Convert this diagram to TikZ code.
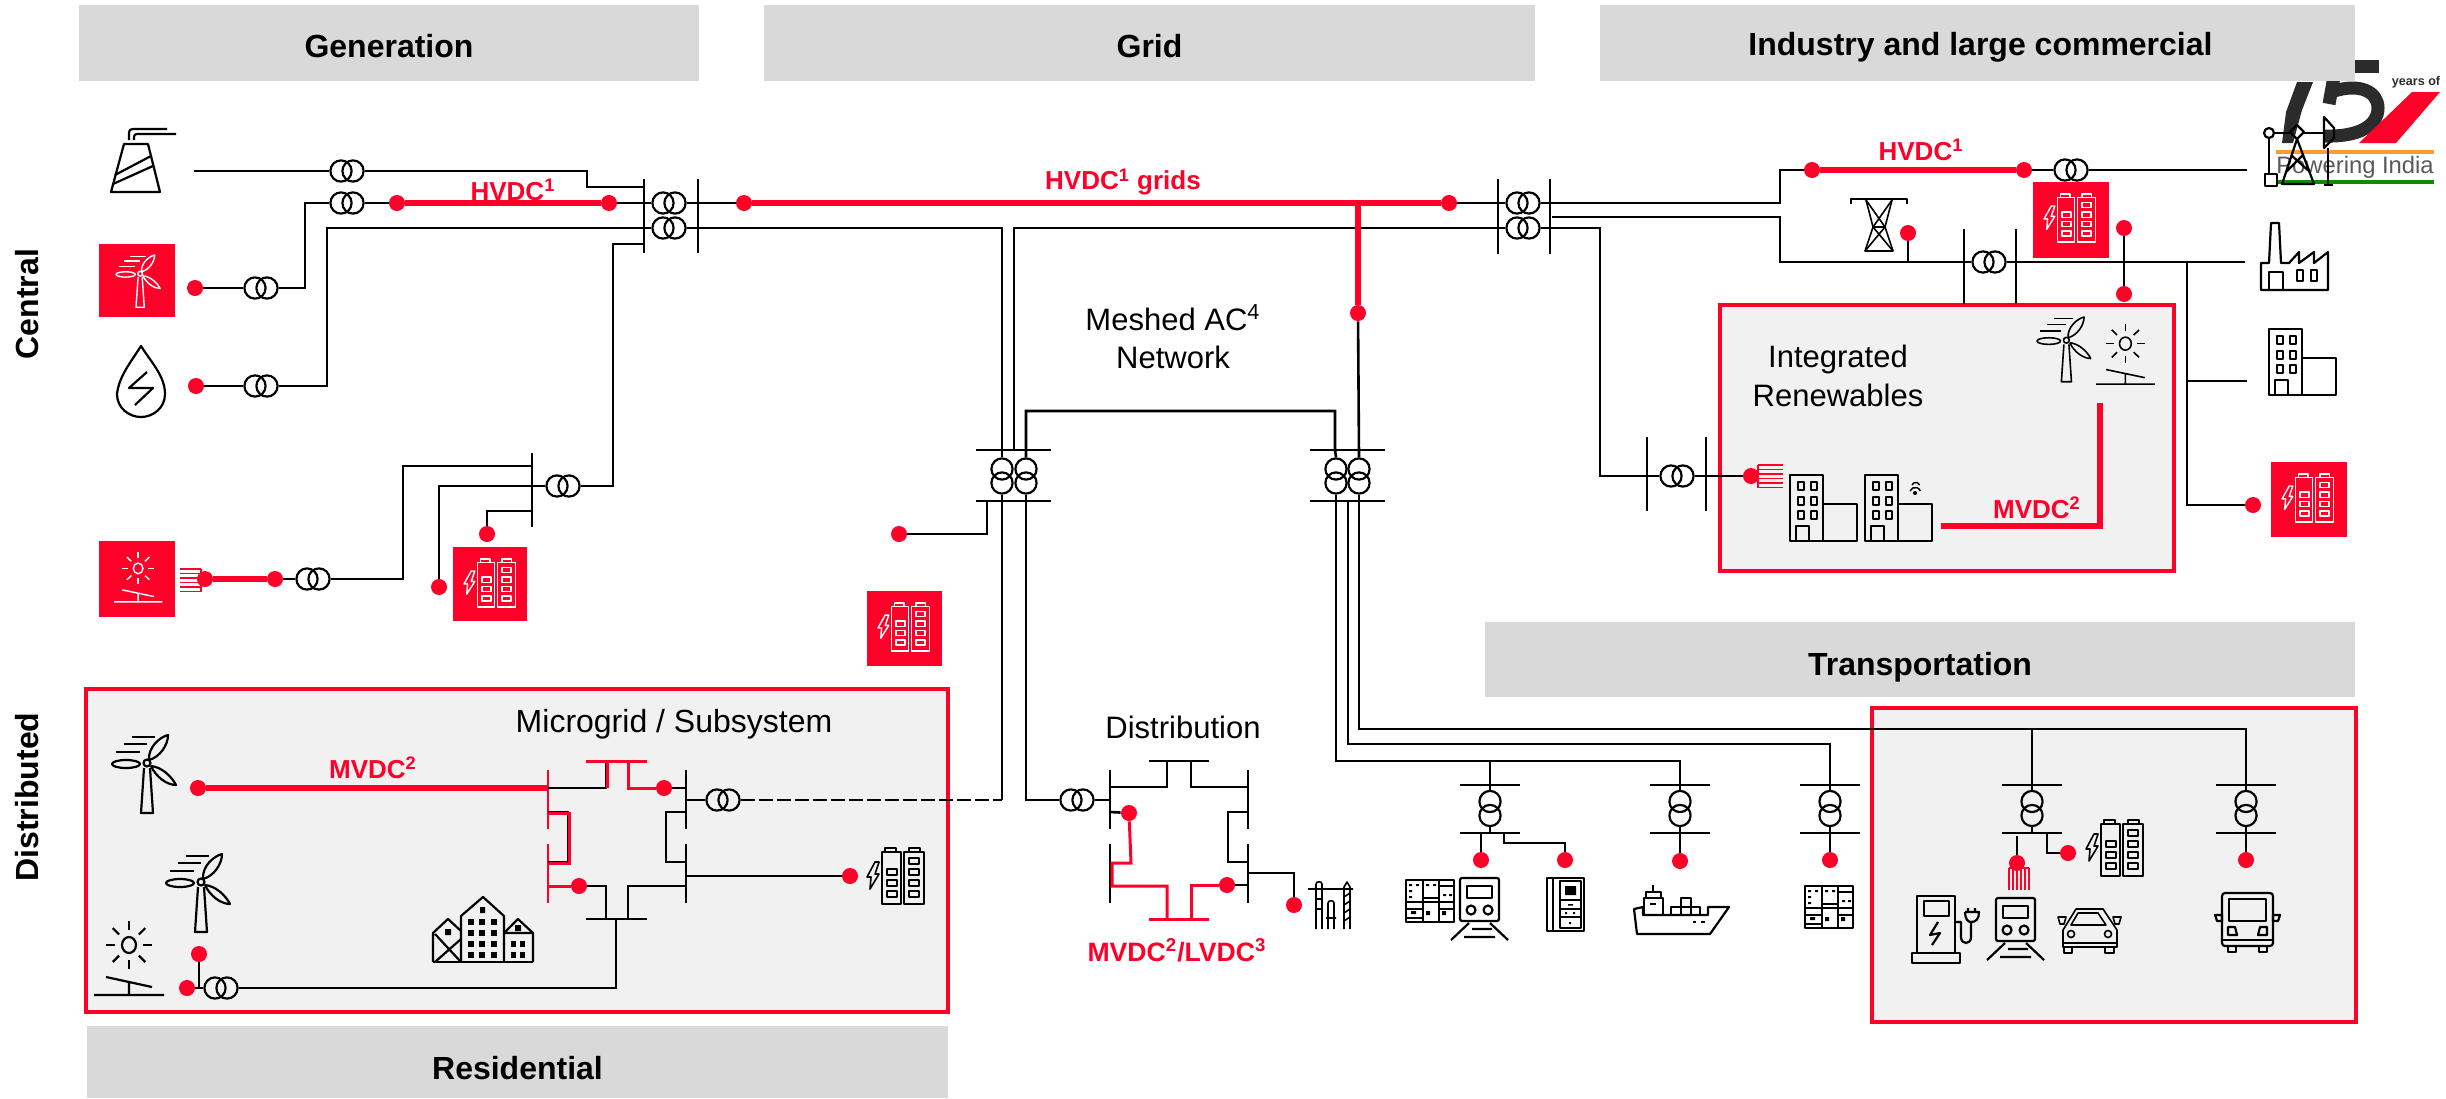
\documentclass[tikz,border=0pt]{standalone}
\usepackage{fontspec}
\setmainfont{Liberation Sans}
\definecolor{rd}{HTML}{FF0029}
\definecolor{hg}{HTML}{D9D9D9}
\definecolor{pg}{HTML}{F1F1F1}
\definecolor{lk}{HTML}{2B2B2B}
\definecolor{or}{HTML}{F99D33}
\definecolor{gn}{HTML}{128807}
\tikzset{
 wire/.style={line width=1.3pt,line join=miter},
 busl/.style={line width=1.3pt},
 redth/.style={rd,line width=2.9pt,line join=miter},
 redtn/.style={rd,line width=1.5pt,line join=miter},
 ring/.style={circle,draw,line width=1.1pt,minimum size=10.6pt,inner sep=0pt},
 dot/.style={circle,fill=rd,minimum size=8pt,inner sep=0pt},
 hdr/.style={fill=hg,inner sep=0pt,font=\fontsize{16}{19}\bfseries\selectfont},
 rbox/.style={fill=pg,draw=rd,line width=2pt,inner sep=0pt},
 rlab/.style={rd,inner sep=0pt,font=\fontsize{13}{16}\bfseries\selectfont},
 tlab/.style={inner sep=0pt,font=\fontsize{15.5}{19}\selectfont},
 sidelab/.style={rotate=90,inner sep=0pt,font=\fontsize{16}{19}\bfseries\selectfont},
 ic/.style={line width=1.1pt,line join=round},
 icw/.style={color=white,line width=.7pt,line join=round},
 ict/.style={line width=.8pt,line join=round},
}
\newcommand\xh[3]{\node[ring] (#1-a) at ({#2-6},#3){}; \node[ring] (#1-b) at ({#2+6},#3){};}
\newcommand\xv[3]{\node[ring] (#1-a) at (#2,{#3-7}){}; \node[ring] (#1-b) at (#2,{#3+7}){};}
\newcommand\busv[4]{\coordinate (#1-a) at (#2,#3); \coordinate (#1-b) at (#2,#4); \draw[busl] (#1-a)--(#1-b);}
\newcommand\bush[4]{\coordinate (#1-a) at (#3,#2); \coordinate (#1-b) at (#4,#2); \draw[busl] (#1-a)--(#1-b);}
\newcommand\hdrbox[7]{\node[hdr,minimum width={(#4-#2)*.5pt},minimum height={(#5-#3)*.5pt}] (#1) at ({(#2+#4)/2},{(#3+#5)/2}) {\raisebox{-#7pt}[\height][\depth]{#6}};}
\newcommand\redbox[5]{\node[rbox,minimum width={(#4-#2)*.5pt},minimum height={(#5-#3)*.5pt}] (#1) at ({(#2+#4)/2},{(#3+#5)/2}) {};}
\newcommand\redsq[5]{\node[fill=rd,inner sep=0pt,minimum width={(#4-#2)*.5pt},minimum height={(#5-#3)*.5pt}] (#1) at ({(#2+#4)/2},{(#3+#5)/2}) {};}
\newcommand\lowx[2]{\xv{#1}{#2}{808.5}
 \bush{#1t}{785}{#2-30}{#2+30}\bush{#1u}{833}{#2-30}{#2+30}
 \coordinate (#1-in) at (#2,785); \draw[wire] (#1-in)--(#1-a.north); \draw[wire] (#1-b.south)--(#2,833);}
% icons: x y sx sy style
\newcommand\iconWind[5]{\begin{scope}[shift={(#1,#2)},xscale=#3,yscale=#4,#5]
 \draw (35,28) circle[x radius=3.5,y radius=3.5];
 \draw (32,33)--(29,78)--(41,78)--(38,33);
 \draw (37,25) .. controls (36,12) and (48,2) .. (56,0) .. controls (56,10) and (48,22) .. (37,25);
 \draw (39,31) .. controls (50,32) and (60,42) .. (64,50) .. controls (55,50) and (44,42) .. (39,31);
 \draw (14,29) circle[x radius=14,y radius=4];
 \draw (20,2)--(43,2) (12,9)--(35,9) (4,17)--(28,17);
\end{scope}}
\newcommand\iconSolar[5]{\begin{scope}[shift={(#1,#2)},xscale=#3,yscale=#4,#5]
 \draw (35,23) circle[x radius=7,y radius=8];
 \foreach \a in {0,45,...,315}{\draw ({35+14*cos(\a)},{23+15*sin(\a)})--({35+23*cos(\a)},{23+24*sin(\a)});}
 \draw (0,73)--(70,73) (12,55)--(58,65) (35,60)--(35,73);
\end{scope}}
\newcommand\iconBatt[5]{\begin{scope}[shift={(#1,#2)},xscale=#3,yscale=#4,#5]
 \draw (8,14)--(12,14)--(8,26)--(12,26)--(3,41)--(4,29)--(0,29)--cycle;
 \draw (15,4) rectangle (34,56) (37,4) rectangle (57,56) (18,0) rectangle (29,4) (42,0) rectangle (53,4);
 \foreach \y in {24,35,46}{\draw (20,{\y-3}) rectangle (30,{\y+3});}
 \foreach \y in {13,24,35,46}{\draw (42,{\y-3}) rectangle (52,{\y+3});}
\end{scope}}
\newcommand\iconBuilding[3]{\begin{scope}[shift={(#1,#2)},#3]
 \draw (1,0) rectangle (34,66) (34,29) rectangle (68,66) (7,51) rectangle (20,66);
 \foreach \x in {12,25}{\foreach \y in {11,26,40}{\draw ({\x-3},{\y-4}) rectangle ({\x+3},{\y+4});}}
\end{scope}}
\newcommand\iconFactory[3]{\begin{scope}[shift={(#1,#2)},#3]
 \draw (0,40)--(8,40)--(10,0)--(18,0)--(20,40)--(28,40)--(38,29)--(38,40)--(53,29)--(53,40)--(67,29)--(67,67)--(0,67)--cycle;
 \draw (8,49) rectangle (22,67) (36,47) rectangle (42,58) (50,47) rectangle (56,58);
\end{scope}}
\newcommand\iconPlant[3]{\begin{scope}[shift={(#1,#2)},#3]
 \draw (0,64)--(49,64)--(37,16)--(13,16)--cycle;
 \draw (4,47)--(40,28) (2,56)--(42,38);
 \draw (18,12)--(18,5) .. controls (18,2) and (19,1) .. (22,1)--(56,1);
 \draw (23,12)--(23,9) .. controls (23,7) and (24,6) .. (26,6)--(65,6);
\end{scope}}
\newcommand\iconDrop[3]{\begin{scope}[shift={(#1,#2)},#3]
 \draw (24,0) .. controls (14,16) and (2,30) .. (0,48) .. controls (0,62) and (12,71) .. (24,71) .. controls (36,71) and (48,62) .. (48,48) .. controls (48,30) and (34,16) .. (24,0) -- cycle;
 \draw (30,26)--(12,42)--(36,42)--(18,59);
\end{scope}}
\newcommand\iconTower[3]{\begin{scope}[shift={(#1,#2)},#3]
 \draw (1,7)--(1,2)--(57,2)--(57,7);
 \draw (16,3)--(23,30)--(15,54)--(43,54)--(35,30)--(42,3);
 \draw (16,3)--(35,30)--(15,54) (42,3)--(23,30)--(43,54) (23,30)--(35,30);
\end{scope}}
\newcommand\iconTrain[3]{\begin{scope}[shift={(#1,#2)},#3]
 \draw[rounded corners=1pt] (9,1) rectangle (48,44);
 \draw (16,9) rectangle (41,21);
 \draw (20,33) circle[radius=4.5] (37,33) circle[radius=4.5];
 \draw (18,46)--(0,63) (39,46)--(57,63) (21,52)--(41,52) (13,60)--(44,60);
\end{scope}}
\newcommand\iconPanel[3]{\begin{scope}[shift={(#1,#2)},#3]
 \draw (0,0) rectangle (48,42) (17,0)--(17,42) (33,0)--(33,42) (0,22)--(48,22) (0,29)--(17,29) (33,29)--(48,29) (0,38)--(17,38) (17,18)--(33,18) (33,6)--(48,6);
 \fill (3,4) rectangle (6,6) (10,4) rectangle (13,6) (3,10) rectangle (6,12) (3,16) rectangle (6,18) (20,4) rectangle (23,6) (27,4) rectangle (30,6) (37,14) rectangle (40,16) (43,14) rectangle (46,16) (5,31) rectangle (10,34) (20,31) rectangle (24,35) (36,31) rectangle (40,35);
\end{scope}}
\newcommand\iconCab[3]{\begin{scope}[shift={(#1,#2)},#3]
 \draw (0,0) rectangle (37,53) (6,0)--(6,53) (13,3) rectangle (34,50) (13,22)--(34,22) (13,31)--(34,31) (13,39)--(34,39);
 \fill (18,8) rectangle (29,17) (21,26) rectangle (26,27.5) (18,34) rectangle (20,36) (26,34) rectangle (28,36) (22,44) rectangle (24,46);
\end{scope}}
\newcommand\iconShip[3]{\begin{scope}[shift={(#1,#2)},#3]
 \draw (10,22)--(1,24)--(4,49)--(77,49)--(96,22)--(75,22)--(75,30)--(10,30)--cycle;
 \draw (11,13) rectangle (30,30) (13,7) rectangle (28,13) (20,0)--(20,7);
 \draw (38,22) rectangle (48,30) (48,22) rectangle (58,30) (58,22) rectangle (67,30) (48,13) rectangle (58,22);
 \draw (17,19)--(23,19) (60,37)--(63,37) (68,37)--(72,37);
\end{scope}}
\newcommand\iconCharger[3]{\begin{scope}[shift={(#1,#2)},#3]
 \draw (5,58)--(5,1)--(43,1)--(43,58) (0,58) rectangle (48,68) (12,6) rectangle (37,21);
 \draw (26,27)--(18,40)--(28,38)--(20,50);
 \draw (43,27)--(49,27)--(49,42) .. controls (49,50) and (59,50) .. (59,42)--(59,27);
 \draw (53,17)--(67,17) .. controls (67,24) and (64,27) .. (59,27) .. controls (56,27) and (53,24) .. (53,17) (56,13)--(56,17) (63,13)--(63,17);
\end{scope}}
\newcommand\iconCar[3]{\begin{scope}[shift={(#1,#2)},#3]
 \draw (5,23)--(18,2)--(45,2)--(59,23)--(59,40)--(5,40)--cycle;
 \draw (13,18)--(20,6)--(40,6)--(48,18)--cycle;
 \draw (13,27) circle[radius=3.5] (50,27) circle[radius=3.5];
 \draw (5,36)--(59,36) (6,40) rectangle (14,46) (47,40) rectangle (56,46);
 \draw (0,10)--(8,10)--(6,17)--(2,17)--cycle (63,10)--(55,10)--(57,17)--(61,17)--cycle;
\end{scope}}
\newcommand\iconBus[3]{\begin{scope}[shift={(#1,#2)},#3]
 \draw[rounded corners=1.5pt] (7,1) rectangle (58,54);
 \draw (14,7) rectangle (51,29);
 \draw (13,35)--(20,35)--(22,43)--(13,43)--cycle (52,35)--(45,35)--(43,43)--(52,43)--cycle;
 \draw (7,48)--(58,48) (13,54) rectangle (21,60) (44,54) rectangle (52,60);
 \draw (0,23)--(7,23)--(7,29)--(2,29)--cycle (65,23)--(58,23)--(58,29)--(63,29)--cycle;
\end{scope}}
\newcommand\iconHouses[3]{\begin{scope}[shift={(#1,#2)},#3]
 \draw (0,65)--(100,65);
 \draw (28,65)--(28,19)--(50,0)--(71,19)--(71,65);
 \draw (0,65)--(0,36)--(15,22)--(28,34) (2,37)--(28,65) (28,42)--(2,65);
 \draw (71,36)--(85,22)--(100,36)--(100,65) (71,36)--(100,36);
 \fill (12,32) rectangle (18,38) (82,28) rectangle (88,34) (47,10) rectangle (52,16);
 \foreach \x in {38,49,61}{\foreach \y in {25,36,47,58}{\fill ({\x-3},{\y-3}) rectangle ({\x+3},{\y+3});}}
 \foreach \x in {80,89}{\foreach \y in {47,58}{\fill ({\x-2.5},{\y-3}) rectangle ({\x+2.5},{\y+3});}}
\end{scope}}
\newcommand\iconTool[3]{\begin{scope}[shift={(#1,#2)},#3]
 \draw (0,8)--(45,8) (8,48)--(8,3) .. controls (8,0) and (14,0) .. (14,3)--(14,48) (8,18)--(14,18) (8,28)--(14,28);
 \draw (20,48)--(20,22) .. controls (20,19) and (26,19) .. (26,22)--(26,48) (18,37)--(28,37);
 \draw (36,48)--(36,6)--(39,1)--(42,6)--(42,48) (36,16)--(42,12) (36,24)--(42,20) (36,32)--(42,28) (36,40)--(42,36);
\end{scope}}
\newcommand\combH[4]{% x1 x2 ytop bar-x
 \foreach \k in {0,...,5}{\draw[rd,line width=.75pt] (#1,{#3+\k*4.5})--(#2,{#3+\k*4.5});}
 \draw[rd,line width=1pt] (#4,#3)--(#4,{#3+22.5});}
\begin{document}
\begin{tikzpicture}[x=0.5pt,y=-0.5pt]
\useasboundingbox (0,0) rectangle (2446,1098);
% logo
\fill[lk] (2297,82)--(2313,82)--(2302,110)--(2293,143)--(2282,143)--(2286,112)--cycle;
\fill[lk] (2330,60) rectangle (2379,73);
\draw[lk,line width=6.5pt] (2337,60)--(2329,104);
\draw[lk,line width=6.5pt] (2331,92) .. controls (2360,82) and (2378,92) .. (2378,108) .. controls (2378,125) and (2360,137) .. (2325,136);
\fill[rd] (2412,92)--(2440,92)--(2396,143)--(2359,143)--cycle;
\fill[or] (2276,150) rectangle (2434,154);
\fill[gn] (2276,180) rectangle (2434,184);
\node[inner sep=0pt,text=lk,font=\fontsize{6.3}{8}\bfseries\selectfont] (ly) at (2416,82) {years of};
\node[inner sep=0pt,text=black!65,font=\fontsize{11.9}{14}\selectfont] (lp) at (2355,167) {Powering India};
% headers
\hdrbox{hgen}{79}{5}{699}{81}{Generation}{1.5}
\hdrbox{hgrid}{764}{5}{1535}{81}{Grid}{1.5}
\hdrbox{hind}{1600}{5}{2355}{81}{\hspace{3pt}Industry and large commercial}{2.2}
\hdrbox{htra}{1485}{622}{2355}{697}{Transportation}{3.8}
\hdrbox{hres}{87}{1026}{948}{1098}{Residential}{3}
\node[sidelab] (lc) at (27,304) {Central};
\node[sidelab] (ld) at (27,797) {Distributed};
% boxes
\redbox{bint}{1720}{305}{2174}{571}
\redbox{bmic}{86}{689}{948}{1012}
\redbox{btra}{1872}{708}{2356}{1022}
\redsq{sw}{99}{244}{175}{317}
\redsq{ss}{99}{541}{175}{617}
\redsq{sb1}{453}{547}{527}{621}
\redsq{sb2}{867}{591}{942}{666}
\redsq{sb3}{2033}{182}{2109}{258}
\redsq{sb4}{2271}{462}{2347}{537}
% buses
\busv{b1}{644}{179}{253}\busv{b2}{698}{179}{253}
\busv{b3}{532}{453}{527}
\busv{b4}{1498}{179}{254}\busv{b5}{1550}{179}{254}
\busv{b6}{1964}{229}{304}\busv{b7}{2016}{229}{304}
\busv{b8}{1647}{437}{511}\busv{b9}{1706}{437}{511}
\bush{g1}{450}{976}{1051}\bush{g2}{501}{976}{1051}
\bush{g3}{450}{1310}{1385}\bush{g4}{501}{1310}{1385}
% transformers
\xh{t1}{347}{171}\xh{t2}{347}{203}\xh{t3}{261}{288}\xh{t6}{261}{386}
\xh{t4}{669}{203}\xh{t5}{669}{228}\xh{t7}{563}{486}\xh{t8}{313}{579}
\xh{t9}{1523}{203}\xh{t10}{1523}{228}\xh{t11}{723}{800}\xh{t12}{1077}{800}
\xh{t13}{2071}{170}\xh{t14}{1989}{262}\xh{t15}{1677}{476}\xh{t16}{221}{988}
\xv{tl1}{1002}{476}\xv{tl2}{1026}{476}\xv{tr1}{1336}{476}\xv{tr2}{1359}{476}
\lowx{la}{1490}\lowx{lb}{1680}\lowx{lc2}{1830}\lowx{ld2}{2032}\lowx{le}{2246}
% dots
\node[dot] (dw) at (195,288){};
\node[dot] (dh1) at (397,203){};
\node[dot] (dh2) at (609,203){};
\node[dot] (dhy) at (196,386){};
\node[dot] (ds1) at (205,579){};
\node[dot] (ds2) at (275,579){};
\node[dot] (db1) at (439,587){};
\node[dot] (db2) at (487,534){};
\node[dot] (db3) at (899,534){};
\node[dot] (gd1) at (744,203){};
\node[dot] (gd2) at (1449,203){};
\node[dot] (gd3) at (1358,313){};
\node[dot] (rd1) at (1812,170){};
\node[dot] (rd2) at (2024,170){};
\node[dot] (rd3) at (1751,476){};
\node[dot] (rd4) at (1908,233){};
\node[dot] (rd5) at (2124,228){};
\node[dot] (rd6) at (2124,294){};
\node[dot] (rd7) at (2253,505){};
\node[dot] (tda) at (1481,860){};
\node[dot] (tdb) at (1565,860){};
\node[dot] (tdc) at (1680,861){};
\node[dot] (tdd) at (1830,860){};
\node[dot] (tde) at (2017,863){};
\node[dot] (tdf) at (2068,853){};
\node[dot] (tdg) at (2246,860){};
\node[dot] (md1) at (198,788){};
\node[dot] (md2) at (664,788){};
\node[dot] (md3) at (579,886){};
\node[dot] (md4) at (850,876){};
\node[dot] (md5) at (199,954){};
\node[dot] (md6) at (187,988){};
\node[dot] (nd1) at (1129,813){};
\node[dot] (nd2) at (1227,885){};
\node[dot] (nd3) at (1294,905){};
% named junctions
\coordinate (fac) at (194,171);
\coordinate (j1) at (644,187);
\coordinate (j2) at (644,244);
\coordinate (j3) at (532,486);
\coordinate (j4) at (532,466);
\coordinate (j5) at (532,511);
\coordinate (jr) at (1358,203);
\coordinate (dj) at (1002,800);
\coordinate (jlt) at (1110,800);
% generation wires
\draw[wire] (fac)--(t1-a.west);
\draw[wire] (t1-b.east)--(587,171)--(587,187)--(j1);
\draw[wire] (t2-a.west)--(305,203)--(305,288)--(t3-b.east);
\draw[wire] (t3-a.west)--(dw);
\draw[wire] (t2-b.east)--(dh1);
\draw[redth] (dh1)--(dh2);
\draw[wire] (dh2)--(t4-a.west);
\draw[wire] (dhy)--(t6-a.west);
\draw[wire] (t6-b.east)--(327,386)--(327,228)--(t5-a.west);
\draw[wire] (j2)--(613,244)--(613,486)--(t7-b.east);
\draw[wire] (t7-a.west)--(j3);
\draw[wire] (j4)--(403,466)--(403,579)--(t8-b.east);
\draw[wire] (t8-a.west)--(ds2);
\draw[redth] (ds1)--(ds2);
\draw[wire] (j3)--(439,486)--(db1);
\draw[wire] (j5)--(487,511)--(db2);
% grid wires
\draw[wire] (t4-b.east)--(gd1);
\draw[redth] (gd1)--(gd2);
\draw[wire] (gd2)--(t9-a.west);
\draw[wire] (t5-b.east)--(1002,228)--(tl1-a.north);
\draw[wire] (t10-a.west)--(1014,228)--(1014,450);
\draw[wire] (tl2-a.north)--(1026,411)--(1335,411)--(1335,450)--(tr1-a.north);
\draw[redth] (jr)--(gd3);
\draw[wire] (gd3)--(tr2-a.north);
\draw[wire] (tl1-b.south)--(dj);
\draw[wire,dashed,dash pattern=on 7pt off 2pt] (t11-b.east)--(dj);
\draw[wire] (tl2-b.south)--(1026,800)--(t12-a.west);
\draw[wire] (t12-b.east)--(jlt);
\draw[wire] (987,501)--(987,534)--(db3);
\draw[wire] (tr1-b.south)--(1336,761)--(1680,761)--(lb-in);
\draw[wire] (1490,761)--(la-in);
\draw[wire] (1348,501)--(1348,744)--(1830,744)--(lc2-in);
\draw[wire] (tr2-b.south)--(1359,729)--(2246,729)--(le-in);
\draw[wire] (2032,729)--(ld2-in);
% lower transformers outputs
\draw[wire] (1481,833)--(tda);
\draw[wire] (1504,833)--(1504,843)--(1565,843)--(tdb);
\draw[wire] (1680,833)--(tdc);
\draw[wire] (1830,833)--(tdd);
\draw[wire] (2017,836)--(tde);
\draw[wire] (2047,833)--(2047,853)--(tdf);
\draw[wire] (2246,833)--(tdg);
% right wires
\draw[wire] (t9-b.east)--(1780,203)--(1780,170)--(rd1);
\draw[redth] (rd1)--(rd2);
\draw[wire] (rd2)--(t13-a.west);
\coordinate (pj) at (2247,170);
\draw[wire] (t13-b.east)--(pj);
\draw[wire] (1552,217)--(1780,217)--(1780,262)--(t14-a.west);
\coordinate (fa) at (2245,262);
\draw[wire] (t14-b.east)--(fa);
\draw[wire] (t10-b.east)--(1600,228)--(1600,476)--(t15-a.west);
\draw[wire] (t15-b.east)--(rd3);
\draw[wire] (rd4)--(1908,262);
\draw[wire] (rd5)--(rd6);
\draw[wire] (2187,262)--(2187,505)--(rd7);
\coordinate (ofc) at (2247,381);
\draw[wire] (2187,381)--(ofc);
\draw[redth] (1941,526)--(2100,526)--(2100,403);
% microgrid
\busv{m1}{548}{770}{829}\busv{m2}{548}{844}{903}\busv{m3}{686}{770}{829}\busv{m4}{686}{844}{903}
\bush{m5}{761}{586}{647}\bush{m6}{919}{586}{647}
\draw[rd,line width=1.4pt] (m1-a)--(m1-b) (m2-a)--(m2-b);
\draw[wire] (548,788)--(606,788)--(606,761);
\draw[wire] (628,761)--(628,788)--(md2);
\draw[redtn] (m5-a)--(m5-b);
\draw[redtn] (607,788)--(607,762);
\draw[redtn] (628,761)--(628,788)--(md2);
\draw[wire] (md2)--(686,788);
\draw[wire] (548,812)--(568,812)--(568,862)--(548,862);
\draw[redtn] (549,813)--(569,813)--(569,863)--(549,863);
\draw[redtn] (548,886)--(md3);
\draw[wire] (md3)--(606,886)--(606,919);
\draw[wire] (628,919)--(628,886)--(686,886);
\draw[wire] (686,812)--(666,812)--(666,862)--(686,862);
\draw[wire] (686,800)--(t11-a.west);
\draw[wire] (686,876)--(md4);
\draw[redth] (md1)--(547,788);
\draw[wire] (md5)--(199,988);
\draw[wire] (md6)--(t16-a.west);
\draw[wire] (t16-b.east)--(616,988)--(616,919);
% distribution
\busv{n1}{1110}{770}{829}\busv{n2}{1110}{844}{903}\busv{n3}{1248}{770}{829}\busv{n4}{1248}{844}{903}
\bush{n5}{761}{1149}{1209}
\draw[wire] (1110,787)--(1167,787)--(1167,761);
\draw[wire] (1191,761)--(1191,787)--(1248,787);
\draw[wire] (1110,812)--(nd1);
\draw[redtn] (nd1)--(1131,863)--(1112,863)--(1112,886)--(1167,886)--(1167,919);
\draw[redtn] (1149,919)--(1209,919);
\draw[redtn] (1191,919)--(1191,885)--(nd2);
\draw[wire] (nd2)--(1248,885);
\draw[wire] (1248,812)--(1228,812)--(1228,862)--(1248,862);
\draw[wire] (1248,873)--(1294,873)--(nd3);
% combs
\combH{180}{201}{569}{201}
\combH{1758}{1783}{465}{1758}
\foreach \k in {0,...,5}{\draw[rd,line width=.75pt] ({2009+\k*4},868)--({2009+\k*4},890);}
\draw[rd,line width=1pt] (2009,868)--(2029,868);
% labels
\node[rlab] (l1) at (513,190) {HVDC\textsuperscript{1}};
\node[rlab] (l2) at (1123,182) {HVDC\textsuperscript{1} grids};
\node[rlab] (l3) at (1921,150) {HVDC\textsuperscript{1}};
\node[rlab] (l4) at (2037,508) {MVDC\textsuperscript{2}};
\node[rlab] (l5) at (373,768) {MVDC\textsuperscript{2}};
\node[rlab,font=\fontsize{13.3}{16}\bfseries\selectfont] (l6) at (1177,950) {MVDC\textsuperscript{2}/LVDC\textsuperscript{3}};
\node[tlab,align=center] (l7) at (1173,337) {Meshed AC\textsuperscript{4}\\[.4pt]Network};
\node[tlab,align=center] (l8) at (1838,376) {Integrated\\[.4pt]Renewables};
\node[tlab,font=\fontsize{16}{19}\selectfont] (l9) at (674,724) {Microgrid / Subsystem};
\node[tlab] (l10) at (1183,727) {Distribution};
% icons
\iconPlant{111}{128}{ic}
\iconDrop{117}{346}{ic}
\iconWind{116}{255}{.69}{.67}{icw}
\iconSolar{114}{553}{.69}{.67}{icw}
\iconBatt{464}{559}{.9}{.86}{icw}
\iconBatt{878}{603}{.9}{.86}{icw}
\iconBatt{2044}{194}{.9}{.86}{icw}
\iconBatt{2282}{474}{.9}{.86}{icw}
\iconTower{1850}{197}{ict}
\iconWind{2037}{317}{.84}{.83}{ict}
\iconSolar{2096}{325}{.84}{.81}{ict}
\iconBuilding{1789}{475}{ic}
\iconBuilding{1864}{475}{ic}
\draw[line width=.7pt] (1910,491) arc[start angle=200,end angle=340,x radius=5.5,y radius=5.5];
\draw[line width=.7pt] (1912,485) arc[start angle=200,end angle=340,x radius=4,y radius=4];
\fill (1915,493) circle[radius=2];
\iconFactory{2261}{223}{ic}
\iconBuilding{2268}{329}{ic}
\iconWind{112}{735}{1}{1}{ic}
\iconWind{166}{854}{1}{1}{ic}
\iconSolar{94}{922}{1}{1}{ic}
\iconBatt{867}{848}{1}{1}{ict}
\iconHouses{433}{897}{ic}
\iconTool{1308}{881}{ict}
\iconPanel{1406}{880}{ic}
\iconTrain{1451}{877}{ic}
\iconCab{1547}{878}{ic}
\iconShip{1633}{885}{ic}
\iconPanel{1805}{886}{ic}
\iconBatt{2086}{820}{1}{1}{ict}
\iconCharger{1912}{895}{ic}
\iconTrain{1987}{897}{ic}
\iconCar{2058}{907}{ict}
\iconBus{2215}{892}{ic}
% pumpjack
\begin{scope}[ic]
\draw (2269,133) circle[radius=5];
\draw (2269,138)--(2269,174) (2265,174) rectangle (2277,186);
\draw (2274,133)--(2290,133) (2304,133)--(2324,133);
\draw (2297,125)--(2304,132)--(2297,139)--(2290,132)--cycle;
\draw (2324,117)--(2334,128)--(2334,138)--(2324,148)--cycle;
\draw (2328,148)--(2328,185) (2324,185)--(2333,185);
\draw (2297,139)--(2282,184)--(2314,184)--cycle (2291,155)--(2310,172) (2303,155)--(2286,172);
\end{scope}
\end{tikzpicture}
\end{document}
